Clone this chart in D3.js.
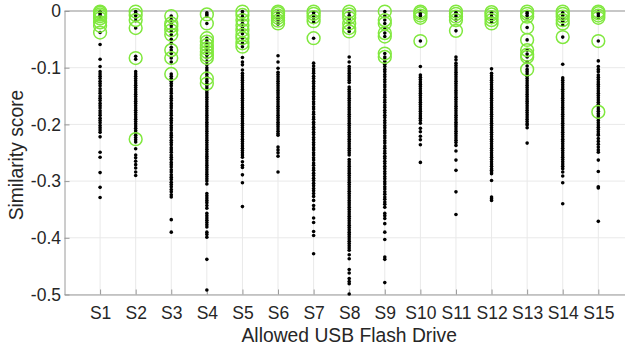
<!DOCTYPE html>
<html><head><meta charset="utf-8">
<script src="https://cdn.jsdelivr.net/npm/d3@7"></script>
<style>html,body{margin:0;padding:0;background:#fff;}svg{display:block;font-family:"Liberation Sans",Arial,sans-serif;}</style>
</head><body><svg id="c" width="625" height="349"></svg>
<script>
const categories = ["S1","S2","S3","S4","S5","S6","S7","S8","S9","S10","S11","S12","S13","S14","S15"];
const yTicks = [0,-0.1,-0.2,-0.3,-0.4,-0.5];
const yTickLabels = ["0","-0.1","-0.2","-0.3","-0.4","-0.5"];
const xTitle = "Allowed USB Flash Drive";
const yTitle = "Similarity score";

const dotsS1 = [-0.001,-0.003,-0.005,-0.008,-0.011,-0.014,-0.038,-0.059,-0.085,-0.098,-0.107,-0.111,-0.115,-0.119,-0.124,-0.128,-0.132,-0.137,-0.141,-0.145,-0.15,-0.154,-0.158,-0.163,-0.167,-0.171,-0.176,-0.18,-0.184,-0.189,-0.193,-0.197,-0.202,-0.206,-0.21,-0.214,-0.222,-0.249,-0.258,-0.285,-0.311,-0.329];
const dotsS2 = [-0.001,-0.004,-0.008,-0.012,-0.017,-0.03,-0.08,-0.085,-0.107,-0.111,-0.115,-0.119,-0.123,-0.127,-0.131,-0.135,-0.139,-0.143,-0.147,-0.151,-0.155,-0.159,-0.163,-0.167,-0.171,-0.175,-0.179,-0.183,-0.187,-0.191,-0.195,-0.199,-0.203,-0.207,-0.211,-0.215,-0.219,-0.223,-0.227,-0.231,-0.243,-0.254,-0.259,-0.265,-0.271,-0.277,-0.284,-0.29];
const dotsS3 = [-0.009,-0.015,-0.021,-0.026,-0.031,-0.036,-0.042,-0.05,-0.057,-0.064,-0.069,-0.075,-0.083,-0.09,-0.111,-0.115,-0.119,-0.124,-0.128,-0.132,-0.137,-0.141,-0.145,-0.15,-0.154,-0.158,-0.163,-0.167,-0.171,-0.176,-0.18,-0.184,-0.189,-0.193,-0.197,-0.202,-0.206,-0.21,-0.215,-0.219,-0.223,-0.228,-0.232,-0.236,-0.241,-0.245,-0.249,-0.254,-0.258,-0.262,-0.267,-0.271,-0.275,-0.28,-0.284,-0.289,-0.293,-0.297,-0.302,-0.306,-0.31,-0.315,-0.319,-0.324,-0.328,-0.368,-0.39];
const dotsS4 = [-0.003,-0.006,-0.009,-0.022,-0.048,-0.053,-0.058,-0.063,-0.068,-0.073,-0.078,-0.083,-0.089,-0.095,-0.1,-0.104,-0.108,-0.112,-0.116,-0.12,-0.124,-0.128,-0.132,-0.136,-0.14,-0.144,-0.148,-0.152,-0.156,-0.16,-0.164,-0.168,-0.172,-0.176,-0.18,-0.184,-0.188,-0.192,-0.196,-0.2,-0.204,-0.208,-0.212,-0.216,-0.22,-0.224,-0.228,-0.232,-0.236,-0.24,-0.244,-0.248,-0.252,-0.256,-0.26,-0.264,-0.268,-0.272,-0.276,-0.28,-0.284,-0.288,-0.292,-0.296,-0.3,-0.305,-0.322,-0.326,-0.33,-0.334,-0.338,-0.343,-0.348,-0.357,-0.361,-0.365,-0.369,-0.373,-0.377,-0.381,-0.39,-0.394,-0.399,-0.438,-0.492];
const dotsS5 = [-0.001,-0.005,-0.01,-0.016,-0.022,-0.028,-0.034,-0.04,-0.048,-0.057,-0.063,-0.082,-0.09,-0.095,-0.104,-0.11,-0.114,-0.118,-0.122,-0.126,-0.13,-0.134,-0.138,-0.142,-0.146,-0.15,-0.154,-0.158,-0.162,-0.166,-0.17,-0.174,-0.178,-0.182,-0.186,-0.19,-0.194,-0.198,-0.202,-0.206,-0.21,-0.214,-0.218,-0.222,-0.226,-0.23,-0.234,-0.238,-0.242,-0.246,-0.25,-0.254,-0.258,-0.266,-0.272,-0.276,-0.289,-0.303,-0.345];
const dotsS6 = [-0.002,-0.005,-0.009,-0.013,-0.018,-0.023,-0.079,-0.09,-0.101,-0.108,-0.112,-0.116,-0.12,-0.124,-0.128,-0.132,-0.136,-0.14,-0.144,-0.148,-0.152,-0.156,-0.16,-0.164,-0.168,-0.172,-0.176,-0.18,-0.184,-0.188,-0.192,-0.196,-0.2,-0.204,-0.208,-0.212,-0.216,-0.219,-0.24,-0.245,-0.25,-0.256,-0.284];
const dotsS7 = [-0.002,-0.006,-0.01,-0.015,-0.02,-0.048,-0.092,-0.097,-0.102,-0.106,-0.11,-0.115,-0.119,-0.124,-0.128,-0.133,-0.137,-0.142,-0.146,-0.151,-0.155,-0.16,-0.164,-0.169,-0.173,-0.178,-0.182,-0.187,-0.191,-0.196,-0.2,-0.205,-0.209,-0.214,-0.218,-0.223,-0.227,-0.232,-0.236,-0.241,-0.245,-0.25,-0.254,-0.259,-0.263,-0.268,-0.272,-0.277,-0.281,-0.286,-0.29,-0.295,-0.299,-0.304,-0.308,-0.313,-0.317,-0.322,-0.327,-0.334,-0.343,-0.349,-0.365,-0.373,-0.389,-0.396,-0.428];
const dotsS8 = [-0.002,-0.008,-0.014,-0.022,-0.03,-0.036,-0.081,-0.09,-0.098,-0.102,-0.106,-0.11,-0.114,-0.118,-0.122,-0.126,-0.134,-0.138,-0.142,-0.146,-0.15,-0.154,-0.158,-0.162,-0.166,-0.17,-0.174,-0.178,-0.182,-0.186,-0.19,-0.194,-0.198,-0.202,-0.206,-0.21,-0.214,-0.218,-0.222,-0.226,-0.23,-0.234,-0.238,-0.242,-0.246,-0.25,-0.254,-0.262,-0.266,-0.27,-0.274,-0.278,-0.282,-0.286,-0.29,-0.294,-0.298,-0.302,-0.306,-0.31,-0.314,-0.318,-0.322,-0.326,-0.33,-0.334,-0.338,-0.342,-0.346,-0.35,-0.354,-0.358,-0.362,-0.366,-0.37,-0.374,-0.378,-0.382,-0.386,-0.39,-0.394,-0.398,-0.402,-0.406,-0.41,-0.414,-0.418,-0.422,-0.43,-0.437,-0.456,-0.462,-0.472,-0.477,-0.481,-0.499];
const dotsS9 = [-0.001,-0.009,-0.016,-0.022,-0.03,-0.039,-0.045,-0.075,-0.081,-0.085,-0.089,-0.094,-0.098,-0.103,-0.107,-0.112,-0.116,-0.121,-0.125,-0.13,-0.134,-0.139,-0.143,-0.148,-0.152,-0.157,-0.161,-0.166,-0.17,-0.175,-0.179,-0.184,-0.188,-0.193,-0.197,-0.202,-0.206,-0.211,-0.215,-0.22,-0.224,-0.229,-0.233,-0.238,-0.242,-0.247,-0.251,-0.256,-0.26,-0.265,-0.269,-0.274,-0.278,-0.283,-0.287,-0.292,-0.296,-0.301,-0.305,-0.31,-0.314,-0.319,-0.323,-0.328,-0.332,-0.337,-0.341,-0.346,-0.357,-0.361,-0.366,-0.375,-0.39,-0.403,-0.434,-0.438,-0.479];
const dotsS10 = [-0.002,-0.005,-0.008,-0.011,-0.053,-0.098,-0.113,-0.117,-0.121,-0.125,-0.129,-0.133,-0.137,-0.141,-0.145,-0.149,-0.153,-0.157,-0.161,-0.165,-0.169,-0.173,-0.177,-0.181,-0.185,-0.189,-0.193,-0.198,-0.207,-0.213,-0.221,-0.227,-0.236,-0.267];
const dotsS11 = [-0.002,-0.006,-0.01,-0.016,-0.035,-0.081,-0.086,-0.092,-0.096,-0.1,-0.104,-0.108,-0.112,-0.116,-0.12,-0.124,-0.128,-0.132,-0.136,-0.14,-0.144,-0.148,-0.152,-0.156,-0.16,-0.164,-0.168,-0.172,-0.176,-0.18,-0.184,-0.188,-0.192,-0.196,-0.2,-0.204,-0.208,-0.212,-0.216,-0.22,-0.224,-0.228,-0.232,-0.237,-0.247,-0.263,-0.281,-0.319,-0.359];
const dotsS12 = [-0.002,-0.006,-0.01,-0.015,-0.02,-0.102,-0.11,-0.114,-0.118,-0.122,-0.126,-0.13,-0.134,-0.138,-0.142,-0.146,-0.15,-0.154,-0.158,-0.162,-0.166,-0.17,-0.174,-0.178,-0.182,-0.186,-0.19,-0.194,-0.198,-0.202,-0.206,-0.21,-0.214,-0.218,-0.222,-0.226,-0.23,-0.234,-0.238,-0.242,-0.246,-0.25,-0.254,-0.258,-0.262,-0.266,-0.27,-0.274,-0.278,-0.281,-0.284,-0.287,-0.299,-0.328,-0.331,-0.334];
const dotsS13 = [-0.001,-0.004,-0.008,-0.012,-0.029,-0.051,-0.069,-0.076,-0.081,-0.09,-0.097,-0.103,-0.107,-0.111,-0.115,-0.119,-0.123,-0.127,-0.131,-0.135,-0.139,-0.143,-0.147,-0.151,-0.155,-0.159,-0.163,-0.167,-0.171,-0.175,-0.179,-0.183,-0.187,-0.191,-0.195,-0.199,-0.201,-0.206,-0.233];
const dotsS14 = [-0.003,-0.008,-0.013,-0.018,-0.025,-0.046,-0.094,-0.118,-0.122,-0.126,-0.13,-0.134,-0.138,-0.142,-0.146,-0.15,-0.154,-0.158,-0.162,-0.166,-0.17,-0.174,-0.178,-0.182,-0.186,-0.19,-0.194,-0.198,-0.202,-0.206,-0.21,-0.214,-0.218,-0.222,-0.226,-0.23,-0.234,-0.238,-0.242,-0.246,-0.25,-0.254,-0.258,-0.262,-0.266,-0.27,-0.274,-0.278,-0.284,-0.291,-0.303,-0.34];
const dotsS15 = [-0.002,-0.005,-0.009,-0.012,-0.053,-0.088,-0.098,-0.103,-0.107,-0.113,-0.117,-0.121,-0.125,-0.129,-0.133,-0.137,-0.141,-0.145,-0.149,-0.153,-0.157,-0.161,-0.165,-0.169,-0.173,-0.177,-0.181,-0.185,-0.189,-0.193,-0.197,-0.201,-0.205,-0.209,-0.213,-0.217,-0.219,-0.225,-0.23,-0.235,-0.24,-0.245,-0.249,-0.263,-0.283,-0.31,-0.312,-0.371];

const ringsS1 = [-0.001,-0.003,-0.006,-0.009,-0.013,-0.02,-0.026,-0.038];
const ringsS2 = [-0.001,-0.007,-0.016,-0.03,-0.083,-0.226];
const ringsS3 = [-0.009,-0.022,-0.027,-0.034,-0.042,-0.069,-0.083,-0.111];
const ringsS4 = [-0.006,-0.022,-0.048,-0.054,-0.06,-0.066,-0.072,-0.078,-0.083,-0.119,-0.128];
const ringsS5 = [-0.001,-0.007,-0.016,-0.025,-0.034,-0.042,-0.048,-0.057,-0.063];
const ringsS6 = [-0.001,-0.004,-0.008,-0.012,-0.017,-0.022];
const ringsS7 = [-0.001,-0.005,-0.011,-0.018,-0.048];
const ringsS8 = [-0.001,-0.006,-0.012,-0.022,-0.03,-0.036];
const ringsS9 = [-0.001,-0.016,-0.022,-0.039,-0.045,-0.075,-0.081];
const ringsS10 = [-0.001,-0.004,-0.008,-0.012,-0.053];
const ringsS11 = [-0.001,-0.005,-0.01,-0.016,-0.035];
const ringsS12 = [-0.002,-0.006,-0.011,-0.016,-0.022];
const ringsS13 = [-0.001,-0.005,-0.01,-0.029,-0.051,-0.069,-0.077,-0.081,-0.103];
const ringsS14 = [-0.001,-0.005,-0.01,-0.016,-0.022,-0.046];
const ringsS15 = [-0.001,-0.004,-0.008,-0.012,-0.053,-0.178];

const dotLists = [dotsS1,dotsS2,dotsS3,dotsS4,dotsS5,dotsS6,dotsS7,dotsS8,dotsS9,dotsS10,dotsS11,dotsS12,dotsS13,dotsS14,dotsS15];
const ringLists = [ringsS1,ringsS2,ringsS3,ringsS4,ringsS5,ringsS6,ringsS7,ringsS8,ringsS9,ringsS10,ringsS11,ringsS12,ringsS13,ringsS14,ringsS15];

(function(){
const dotData = [], ringData = [];
categories.forEach((c,i)=>{
  dotLists[i].forEach(v=>dotData.push({c, v}));
  ringLists[i].forEach(v=>ringData.push({c, v}));
});

const W = 625;
const pLeft = 64.5, pRight = 633.9, pTop = 11, pBottom = 294.5;
const textColor = "#262626", axisColor = "#9a9a9a", gridColor = "#e9e9e9";
const green = "#80e83e";

const svg = d3.select("#c");
const x = d3.scalePoint().domain(categories).range([pLeft, pRight]).padding(1);
const y = d3.scaleLinear().domain([-0.5, 0]).range([pBottom, pTop]);

const g = svg.append("g");
g.selectAll(".vg").data(categories).join("line")
  .attr("x1", d=>x(d)).attr("x2", d=>x(d)).attr("y1", pTop).attr("y2", pBottom)
  .attr("stroke", gridColor).attr("stroke-width", 1);
g.selectAll(".hg").data(yTicks).join("line")
  .attr("x1", pLeft).attr("x2", W).attr("y1", d=>y(d)).attr("y2", d=>y(d))
  .attr("stroke", gridColor).attr("stroke-width", 1);

svg.append("line").attr("x1", pLeft).attr("x2", W).attr("y1", pTop).attr("y2", pTop)
  .attr("stroke", axisColor).attr("stroke-width", 1);

const yAxis = d3.axisLeft(y).tickValues(yTicks).tickFormat((d,i)=>yTickLabels[i])
  .tickSizeInner(-5).tickSizeOuter(0).tickPadding(3.5);
const ya = svg.append("g").attr("transform", `translate(${pLeft},0)`).call(yAxis);
const xAxis = d3.axisBottom(x).tickSizeInner(-5).tickSizeOuter(0).tickPadding(12.5);
const xa = svg.append("g").attr("transform", `translate(0,${pBottom})`).call(xAxis);
[ya, xa].forEach(a=>{
  a.select(".domain").attr("stroke", axisColor);
  a.selectAll(".tick line").attr("stroke", axisColor);
  a.selectAll(".tick text").attr("fill", textColor).style("font-size", "17.5px")
    .style("font-family", '"Liberation Sans",Arial,sans-serif');
});

svg.append("g").selectAll("circle").data(dotData).join("circle")
  .attr("cx", d=>x(d.c)).attr("cy", d=>y(d.v)).attr("r", 1.8).attr("fill", "#000");
svg.append("g").selectAll("circle").data(ringData).join("circle")
  .attr("cx", d=>x(d.c)).attr("cy", d=>y(d.v)).attr("r", 6.4)
  .attr("fill", "none").attr("stroke", green).attr("stroke-width", 1.5);

svg.append("text").attr("x", (pLeft+pRight)/2).attr("y", 341.5).attr("text-anchor", "middle")
  .attr("fill", textColor).style("font-size", "19.3px").text(xTitle);
svg.append("text").attr("transform", "translate(22.5,155) rotate(-90)").attr("text-anchor", "middle")
  .attr("fill", textColor).style("font-size", "19.3px").text(yTitle);
})();
</script></body></html>
